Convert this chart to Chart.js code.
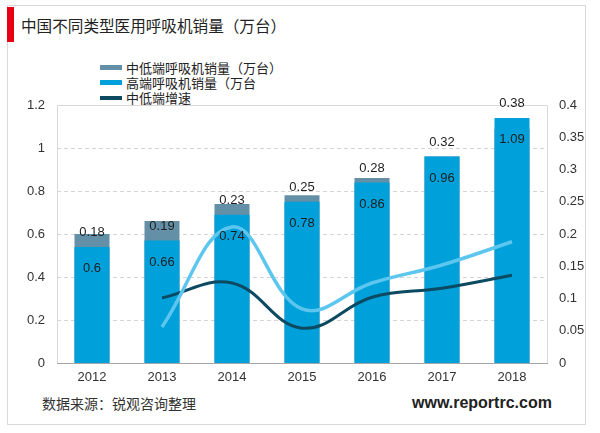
<!DOCTYPE html>
<html><head><meta charset="utf-8">
<script src="https://cdn.jsdelivr.net/npm/chart.js@4.4.1/dist/chart.umd.min.js"></script>
<style>
html,body{margin:0;padding:0;background:#fff;}
#wrap{position:relative;width:600px;height:433px;overflow:hidden;font-family:"Liberation Sans","Noto Sans CJK SC",sans-serif;}
#box{position:absolute;left:7px;top:5px;width:579px;height:420px;border:1px solid #d9d9d9;box-sizing:border-box;}
#redbar{position:absolute;left:7px;top:7px;width:7px;height:35px;background:#e60012;}
#title{position:absolute;left:21px;top:14px;font-size:15.6px;line-height:22px;color:#222;font-family:"Noto Sans CJK SC",sans-serif;white-space:nowrap;}
#src{position:absolute;left:42px;top:393px;font-size:14px;line-height:20px;color:#333;font-family:"Noto Sans CJK SC",sans-serif;white-space:nowrap;}
#web{position:absolute;left:412px;top:393px;font-size:16px;line-height:20px;color:#222;font-weight:bold;font-family:"Liberation Sans",Arial,sans-serif;white-space:nowrap;}
#legend{position:absolute;left:100px;top:60px;font-family:"Noto Sans CJK SC",sans-serif;font-size:13px;color:#222;}
.li{position:relative;height:15px;line-height:15px;white-space:nowrap;}
.sw{position:absolute;left:0;width:22px;}
.lt{position:absolute;left:26px;top:0;}
canvas{position:absolute;left:0;top:0;}
</style></head>
<body><div id="wrap">
<div id="box"></div>
<div id="redbar"></div>
<div id="title">中国不同类型医用呼吸机销量（万台）</div>
<div id="legend"></div>
<div id="src">数据来源：锐观咨询整理</div>
<div id="web">www.reportrc.com</div>
<div style="position:absolute;left:0;top:0;width:600px;height:433px;"><canvas id="c"></canvas></div>
</div>
<script>
const categories = ['2012','2013','2014','2015','2016','2017','2018'];
const lowEndSales = [0.6, 0.66, 0.74, 0.78, 0.86, 0.96, 1.09];
const highEndSales = [0.18, 0.19, 0.23, 0.25, 0.28, 0.32, 0.38];
const lowEndGrowth = [null, 0.101, 0.124, 0.054, 0.102, 0.116, 0.136];
const highEndGrowth = [null, 0.056, 0.211, 0.084, 0.124, 0.152, 0.188];
const seriesNames = ['中低端呼吸机销量（万台）', '高端呼吸机销量（万台', '中低端增速', '高端增速'];
const leftTicks = [0, 0.2, 0.4, 0.6, 0.8, 1, 1.2];
const rightTicks = [0, 0.05, 0.1, 0.15, 0.2, 0.25, 0.3, 0.35, 0.4];

const C_GREY = '#6390a6', C_BLUE = '#00a0da', C_DARK = '#0c4a61', C_LIGHT = '#5cc6ef';
const FONT = 'Liberation Sans, Noto Sans CJK SC, sans-serif';

// HTML legend (first three series)
const legendDef = [[0,C_GREY,'bar'],[1,C_BLUE,'bar'],[2,C_DARK,'line']];
const lg = document.getElementById('legend');
legendDef.forEach(([i,col,type])=>{
  const d = document.createElement('div'); d.className='li';
  const s = document.createElement('div'); s.className='sw';
  s.style.background=col;
  if(type==='bar'){s.style.height='5px';s.style.top='5px';} else {s.style.height='4px';s.style.top='6px';}
  const t = document.createElement('div'); t.className='lt'; t.textContent=seriesNames[i];
  d.appendChild(s); d.appendChild(t); lg.appendChild(d);
});

const frame = {
  id:'frame',
  beforeDatasetsDraw(chart){
    const a = chart.chartArea, ctx = chart.ctx;
    ctx.save();
    ctx.lineWidth = 1;
    ctx.strokeStyle = '#d9d9d9';
    ctx.beginPath();
    ctx.moveTo(Math.round(a.left)+0.5, Math.round(a.bottom));
    ctx.lineTo(Math.round(a.left)+0.5, Math.round(a.top)+0.5);
    ctx.lineTo(Math.round(a.right)+0.5, Math.round(a.top)+0.5);
    ctx.lineTo(Math.round(a.right)+0.5, Math.round(a.bottom));
    ctx.stroke();
    ctx.strokeStyle = '#a6a6a6';
    ctx.beginPath();
    ctx.moveTo(a.left, Math.round(a.bottom)+0.5);
    ctx.lineTo(a.right+1, Math.round(a.bottom)+0.5);
    ctx.stroke();
    ctx.restore();
  },
  afterDatasetsDraw(chart){
    const ctx = chart.ctx;
    const mb = chart.getDatasetMeta(1);
    ctx.save();
    ctx.font = '13px ' + FONT;
    ctx.fillStyle = '#1e1e1e';
    ctx.textAlign = 'center';
    ctx.textBaseline = 'middle';
    mb.data.forEach((el, i) => {
      ctx.fillText(String(highEndSales[i]), el.x, el.y - 14);
      ctx.fillText(String(lowEndSales[i]), el.x, el.y + 22);
    });
    ctx.restore();
  }
};

new Chart(document.getElementById('c'), {
  type: 'bar',
  data: {
    labels: categories,
    datasets: [
      {label: seriesNames[0], data: lowEndSales, backgroundColor: C_GREY, yAxisID: 'y', order: 4, grouped: false, barPercentage: 0.5, categoryPercentage: 1},
      {label: seriesNames[1], data: highEndSales, backgroundColor: C_BLUE, yAxisID: 'y1', order: 3, grouped: false, barPercentage: 0.5, categoryPercentage: 1},
      {type: 'line', label: seriesNames[2], data: lowEndGrowth, borderColor: C_DARK, borderWidth: 3, yAxisID: 'y1', tension: 0.4, pointRadius: 0, fill: false, order: 2},
      {type: 'line', label: seriesNames[3], data: highEndGrowth, borderColor: C_LIGHT, borderWidth: 3.5, yAxisID: 'y1', tension: 0.4, pointRadius: 0, fill: false, order: 1}
    ]
  },
  options: {
    responsive: true,
    maintainAspectRatio: false,
    animation: false,
    layout: {padding: {left: 0, right: 0, top: 105, bottom: 40}},
    plugins: {legend: {display: false}, tooltip: {enabled: false}, title: {display: false}},
    scales: {
      x: {
        grid: {display: false, drawTicks: false},
        border: {display: false},
        ticks: {color: '#333', font: {size: 13, family: FONT}, padding: 7},
        afterFit(s){ s.height = 30; }
      },
      y: {
        position: 'left', min: 0, max: 1.2,
        afterBuildTicks(s){ s.ticks = leftTicks.map(v => ({value: v})); },
        ticks: {color: '#333', font: {size: 13, family: FONT}, padding: 12, callback: v => String(+v.toFixed(2))},
        grid: {drawTicks: false, color: ctx => (ctx.tick && (ctx.tick.value === 0 || ctx.tick.value === 1.2)) ? 'rgba(0,0,0,0)' : '#d4d4d4', lineWidth: 1},
        border: {display: false, dash: [4, 3]},
        afterFit(s){ s.width = 57; }
      },
      y1: {
        position: 'right', min: 0, max: 0.4,
        afterBuildTicks(s){ s.ticks = rightTicks.map(v => ({value: v})); },
        ticks: {color: '#333', font: {size: 13, family: FONT}, padding: 12, callback: v => String(+v.toFixed(2))},
        grid: {display: false, drawTicks: false},
        border: {display: false},
        afterFit(s){ s.width = 53; }
      }
    }
  },
  plugins: [frame]
});
</script>
</body></html>
